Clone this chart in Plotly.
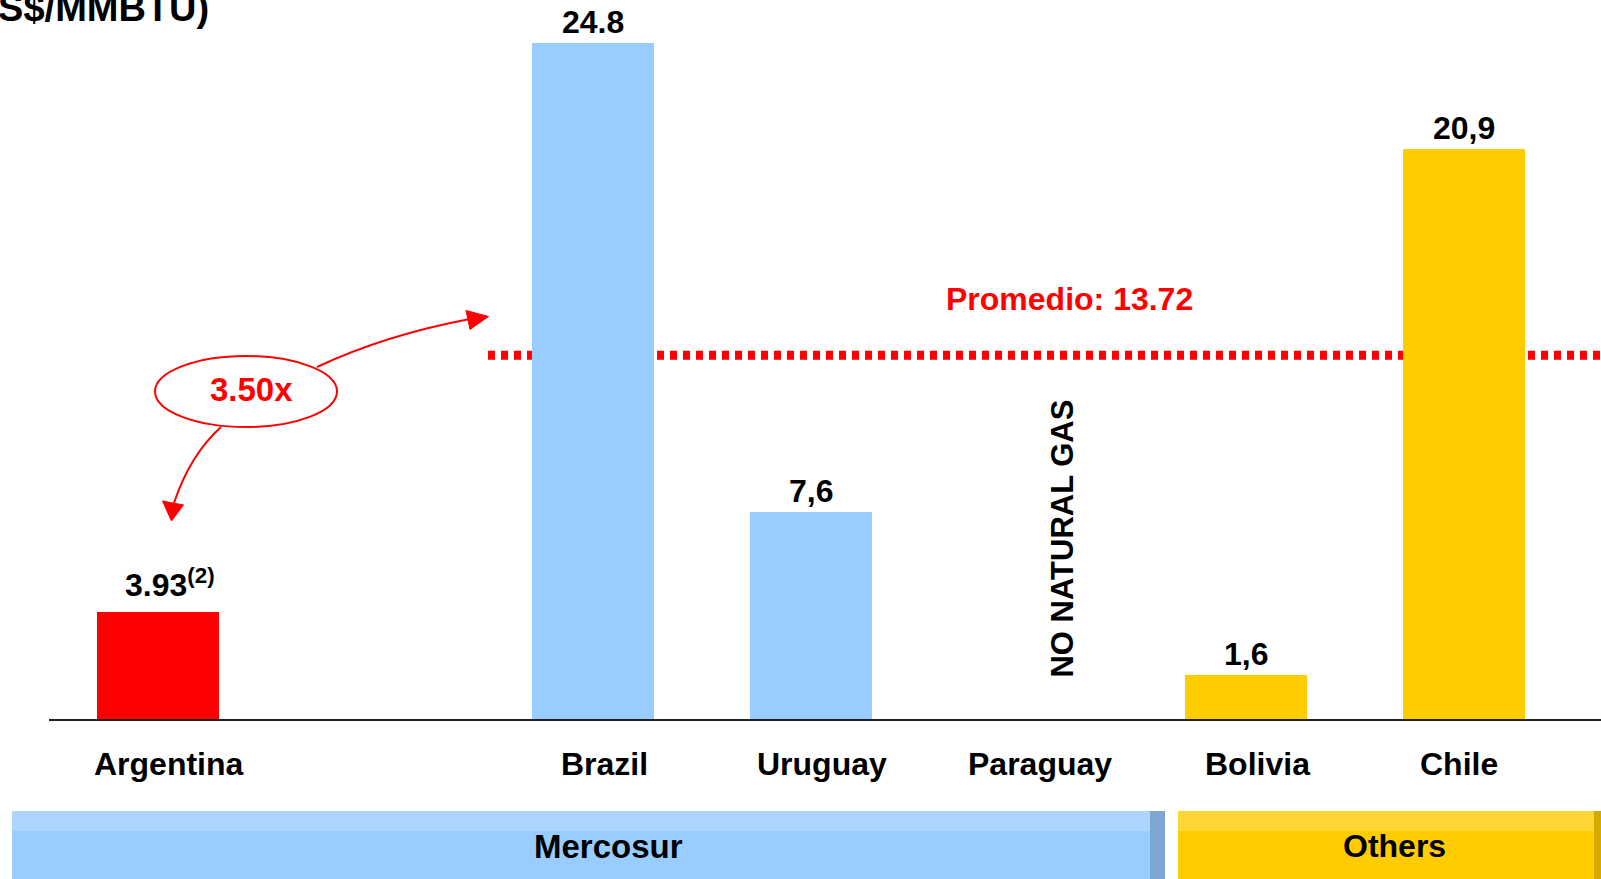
import plotly.graph_objects as go

# ---------------- data ----------------
categories = ["Argentina", "", "Brazil", "Uruguay", "Paraguay", "Bolivia", "Chile"]
prices = [3.93, None, 24.8, 7.6, None, 1.6, 20.9]
value_labels = ["3.93<sup>(2)</sup>", "", "24.8", "7,6", "", "1,6", "20,9"]
bar_colors = ["#FF0000", "#FFFFFF", "#99CCFF", "#99CCFF", "#FFFFFF", "#FFCC00", "#FFCC00"]
avg_label = 13.72
avg_line_level = 13.35   # where the dotted line sits in the picture
ratio_label = "3.50x"
unit_label = "(US$/MMBTU)"
no_gas_label = "NO NATURAL GAS"
groups = ["Mercosur", "Others"]

# ---------------- layout geometry (pixels) ----------------
W, H = 1601, 879
L, R, T, B = 49, 1601, 0, 719
RED = "#FF0000"
FONT = "Liberation Sans, Arial, sans-serif"


def px(xp):
    return (xp - L) / (R - L)


def py(yp):
    return (B - yp) / (B - T)


def bold(size, color="black"):
    return dict(family=FONT, size=size, color=color, weight="bold")


xpos = list(range(len(categories)))

fig = go.Figure()
fig.add_trace(go.Bar(
    x=xpos, y=prices, marker=dict(color=bar_colors, line=dict(width=0)),
    width=0.56, hoverinfo="skip", showlegend=False,
))

annotations = []
shapes = []

# value labels
for xi, v, lab in zip(xpos, prices, value_labels):
    if v is None or not lab:
        continue
    has_sup = "<sup>" in lab
    annotations.append(dict(
        x=xi, y=v, xref="x", yref="y", text=lab, showarrow=False,
        yanchor="middle", xanchor="center", yshift=21 + (8 if has_sup else 0),
        xshift=12 if has_sup else 0, font=bold(32),
    ))

# category labels
label_nudge = {"Chile": -5}
for xi, c in zip(xpos, categories):
    if not c:
        continue
    annotations.append(dict(
        x=xi, y=py(764), xref="x", yref="paper", text=c, showarrow=False,
        yanchor="middle", xanchor="center", xshift=label_nudge.get(c, 11),
        font=bold(32),
    ))

# NO NATURAL GAS
annotations.append(dict(
    x=categories.index("Paraguay"), y=py(539), xref="x", yref="paper",
    text=no_gas_label, showarrow=False, textangle=-90, xshift=33,
    xanchor="center", yanchor="middle", font=bold(31),
))

# average line + label
shapes.append(dict(
    type="line", xref="paper", yref="y", x0=px(488), x1=1.0,
    y0=avg_line_level, y1=avg_line_level, layer="below",
    line=dict(color=RED, width=9, dash="7px,6px"),
))
annotations.append(dict(
    x=px(1069), y=py(299), xref="paper", yref="paper",
    text=f"Promedio: {avg_label:.2f}", showarrow=False,
    xanchor="center", yanchor="middle", font=bold(32, RED),
))

# unit label (partly cut off at the top-left)
annotations.append(dict(
    x=px(211), y=py(8), xref="paper", yref="paper", text=unit_label,
    showarrow=False, xanchor="right", yanchor="middle", font=bold(38),
))

# ellipse with ratio
shapes.append(dict(
    type="circle", xref="paper", yref="paper",
    x0=px(155), x1=px(337), y0=py(427), y1=py(356),
    line=dict(color=RED, width=2), fillcolor="rgba(0,0,0,0)",
))
annotations.append(dict(
    x=px(251), y=py(389), xref="paper", yref="paper", text=ratio_label,
    showarrow=False, xanchor="center", yanchor="middle", font=bold(33, RED),
))


def pth(points_cmd):
    out = []
    for tok in points_cmd:
        if isinstance(tok, str):
            out.append(tok)
        else:
            out.append(f"{px(tok[0]):.5f},{py(tok[1]):.5f}")
    return " ".join(out)


# arrow to Brazil
shapes.append(dict(
    type="path", xref="paper", yref="paper",
    path=pth(["M", (317, 367), "Q", (385, 335), (470, 319)]),
    line=dict(color=RED, width=2),
))
shapes.append(dict(
    type="path", xref="paper", yref="paper",
    path=pth(["M", (466, 310.5), "L", (488.5, 316.5), "L", (470, 329.5), "Z"]),
    line=dict(color=RED, width=1), fillcolor=RED,
))
# arrow to Argentina
shapes.append(dict(
    type="path", xref="paper", yref="paper",
    path=pth(["M", (221, 427), "Q", (190, 455), (174, 503)]),
    line=dict(color=RED, width=2),
))
shapes.append(dict(
    type="path", xref="paper", yref="paper",
    path=pth(["M", (162.5, 501), "L", (171.5, 521), "L", (183.5, 505), "Z"]),
    line=dict(color=RED, width=1), fillcolor=RED,
))

# bottom group bands
band_specs = [
    (12, 1150, 1165, "#ADD6FF", "#99CCFF", "#7BA7D1", 608, 33),
    (1178, 1594, 1605, "#FFD633", "#FFCC00", "#D4A900", 1394, 32),
]
for (x0, x1, x2, top_c, main_c, edge_c, xc, fs), name in zip(band_specs, groups):
    shapes.append(dict(type="rect", xref="paper", yref="paper",
                       x0=px(x0), x1=px(x1), y0=py(885), y1=py(831),
                       fillcolor=main_c, line=dict(width=0)))
    shapes.append(dict(type="rect", xref="paper", yref="paper",
                       x0=px(x0), x1=px(x1), y0=py(831), y1=py(811),
                       fillcolor=top_c, line=dict(width=0)))
    shapes.append(dict(type="rect", xref="paper", yref="paper",
                       x0=px(x1), x1=px(x2), y0=py(885), y1=py(811),
                       fillcolor=edge_c, line=dict(width=0)))
    annotations.append(dict(
        x=px(xc), y=py(846), xref="paper", yref="paper", text=name,
        showarrow=False, xanchor="center", yanchor="middle", font=bold(fs),
    ))

y_top = (B - T) / 27.25

fig.update_layout(
    width=W, height=H,
    margin=dict(l=L, r=W - R, t=T, b=H - B, pad=0, autoexpand=False),
    paper_bgcolor="white", plot_bgcolor="white",
    xaxis=dict(range=[-0.5, 6.63], showticklabels=False, showgrid=False,
               zeroline=False, ticks="", showline=True, linecolor="#222222",
               linewidth=2, fixedrange=True),
    yaxis=dict(range=[0, y_top], visible=False, showgrid=False,
               zeroline=False, fixedrange=True),
    shapes=shapes, annotations=annotations, bargap=0,
)

fig.write_html("out.html", config={"displayModeBar": False},
               post_script="document.body.style.margin='0';document.body.style.overflow='hidden';")
